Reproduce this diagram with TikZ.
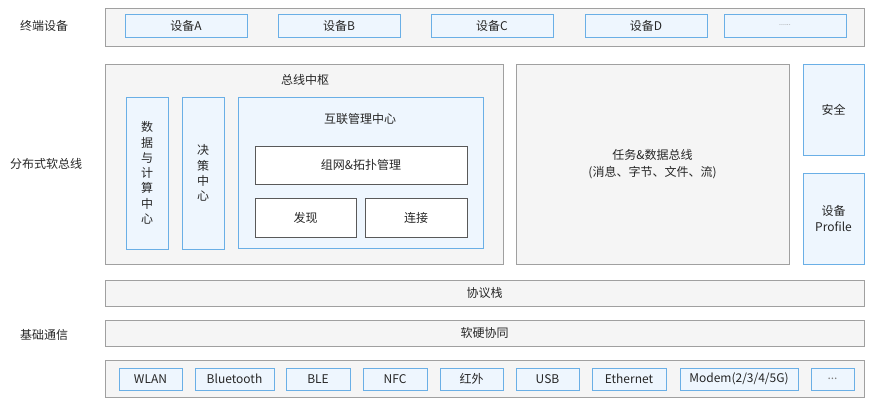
\documentclass[tikz,border=0pt]{standalone}
\usepackage{fontspec}
\setmainfont{Noto Sans CJK SC}
\definecolor{boxgray}{HTML}{F5F5F5}
\definecolor{linegray}{HTML}{A0A0A0}
\definecolor{boxblue}{HTML}{EEF6FE}
\definecolor{lineblue}{HTML}{6AAFE6}
\definecolor{txt}{HTML}{262626}
\begin{document}
\begin{tikzpicture}[x=1pt,y=-1pt,
  every node/.style={inner sep=0pt,outer sep=0pt,text=txt,font=\fontsize{12}{15.3}\selectfont},
  graybox/.style={draw=linegray,fill=boxgray,line width=1pt},
  bluebox/.style={draw=lineblue,fill=boxblue,line width=1pt,align=center},
  whitebox/.style={draw=black!65,fill=white,line width=1pt},
  layerlabel/.style={font=\fontsize{12}{15}\selectfont}]
 \useasboundingbox (0,0) rectangle (879,410);
 % left labels
 \node[layerlabel] (lterm) at (44,26) {终端设备};
 \node[layerlabel] (lbus) at (46,164) {分布式软总线};
 \node[layerlabel] (lbase) at (44,335) {基础通信};
 % terminal devices
 \node[graybox,minimum width=759pt,minimum height=38pt] (term) at (484.5,27) {};
 \node[bluebox,minimum width=122pt,minimum height=23pt] (devA) at (186,25.5) {设备A};
 \node[bluebox,minimum width=122pt,minimum height=23pt] (devB) at (339,25.5) {设备B};
 \node[bluebox,minimum width=122pt,minimum height=23pt] (devC) at (492,25.5) {设备C};
 \node[bluebox,minimum width=122pt,minimum height=23pt] (devD) at (646,25.5) {设备D};
 \node[bluebox,minimum width=122pt,minimum height=23pt,text=gray,font=\scriptsize] (devX) at (785,25.5) {......};
 % bus hub
 \node[graybox,minimum width=398pt,minimum height=200pt] (hub) at (304,164) {};
 \node (hubtxt) at (305,80) {总线中枢};
 \node[bluebox,minimum width=42pt,minimum height=152pt] (calc) at (147,173) {数\\据\\与\\计\\算\\中\\心};
 \node[bluebox,minimum width=42pt,minimum height=152pt] (dec) at (203,173) {决\\策\\中\\心};
 \node[bluebox,minimum width=245pt,minimum height=151pt] (inter) at (360.5,172.5) {};
 \node (intertxt) at (360,119) {互联管理中心};
 \node[whitebox,minimum width=212pt,minimum height=38pt] (topo) at (361,165) {组网\&拓扑管理};
 \node[whitebox,minimum width=101pt,minimum height=39pt] (disc) at (305.5,217.5) {发现};
 \node[whitebox,minimum width=102pt,minimum height=39pt] (conn) at (416,217.5) {连接};
 % task & data bus
 \node[graybox,minimum width=273pt,minimum height=200pt,align=center,font=\fontsize{12}{17}\selectfont] (task) at (652.5,164) {任务\&数据总线\\(消息、字节、文件、流)};
 \node[bluebox,minimum width=61pt,minimum height=91pt] (safe) at (833.5,109.5) {安全};
 \node[bluebox,minimum width=61pt,minimum height=91pt,font=\fontsize{12}{16}\selectfont] (prof) at (833.5,218.5) {设备\\Profile};
 % protocol layers
 \node[graybox,minimum width=759pt,minimum height=26pt] (proto) at (484.5,293) {协议栈};
 \node[graybox,minimum width=759pt,minimum height=26pt] (hwsw) at (484.5,333) {软硬协同};
 % base communication
 \node[graybox,minimum width=759pt,minimum height=37pt] (base) at (484.5,378.5) {};
 \node[bluebox,minimum width=63pt,minimum height=22pt] (wlan) at (150.5,379) {WLAN};
 \node[bluebox,minimum width=79pt,minimum height=22pt] (bt) at (234.5,379) {Bluetooth};
 \node[bluebox,minimum width=64pt,minimum height=22pt] (ble) at (318,379) {BLE};
 \node[bluebox,minimum width=64pt,minimum height=22pt] (nfc) at (395,379) {NFC};
 \node[bluebox,minimum width=63pt,minimum height=22pt] (ir) at (471.5,379) {红外};
 \node[bluebox,minimum width=63pt,minimum height=22pt] (usb) at (547.5,379) {USB};
 \node[bluebox,minimum width=74pt,minimum height=22pt] (eth) at (629,379) {Ethernet};
 \node[bluebox,minimum width=118pt,minimum height=22pt] (modem) at (739,379) {Modem(2/3/4/5G)};
 \node[bluebox,minimum width=43pt,minimum height=22pt,text=gray] (more) at (832.5,379) {...};
\end{tikzpicture}
\end{document}
